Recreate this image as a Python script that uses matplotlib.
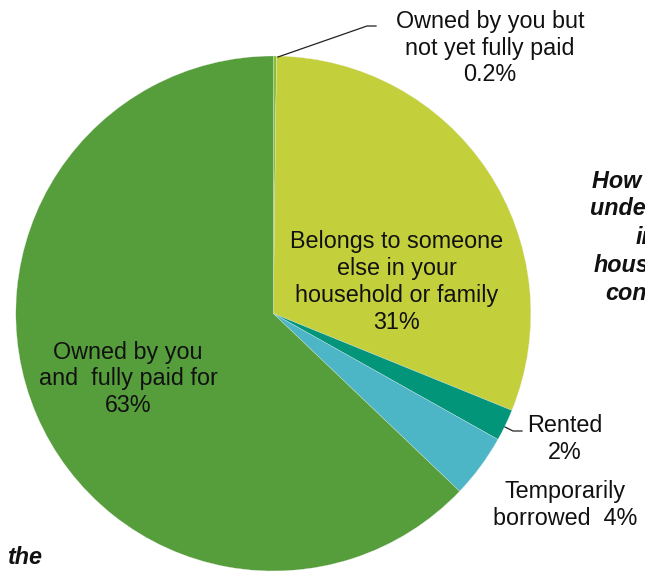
import matplotlib
matplotlib.use("Agg")
import matplotlib.pyplot as plt

plt.rcParams['font.family'] = ['Liberation Sans', 'DejaVu Sans']

# Land ownership shares (%), clockwise from 12 o'clock
categories = [
    "Owned by you but\nnot yet fully paid",
    "Belongs to someone\nelse in your\nhousehold or family",
    "Rented",
    "Temporarily\nborrowed",
    "Owned by you\nand  fully paid for",
]
shares = [0.2, 31, 2, 4, 63]
value_labels = ["0.2%", "31%", "2%", "4%", "63%"]
colors = ["#88BE3C", "#C4D03B", "#03957A", "#4CB6C7", "#559E3B"]

W, H = 645, 577
fig = plt.figure(figsize=(W / 100, H / 100), dpi=100)
ax = fig.add_axes([0, 0, 1, 1])

cx, cy, r = 273.3, H - 313.5, 257.5
ax.pie(shares, colors=colors, startangle=90, counterclock=False,
       center=(cx, cy), radius=r, frame=True,
       wedgeprops=dict(edgecolor='#EEEEEE', linewidth=0.2))
ax.set_xlim(0, W)
ax.set_ylim(0, H)
ax.set_aspect('equal')
ax.axis('off')

fs = 16.8
ls = 1.22
txt = dict(ha='center', va='center', fontsize=fs, color='#111111', linespacing=ls)

# Labels inside the large slices
ax.text(397, H - 282, categories[1] + "\n" + value_labels[1], **txt)
ax.text(128, H - 379, categories[4] + "\n" + value_labels[4], **txt)

# Labels outside the small slices, with leader lines
ax.text(490, H - 48, categories[0] + "\n" + value_labels[0], **txt)
ax.plot([278, 367, 376], [H - 57, H - 26, H - 26], color='#222222', lw=0.9)

ax.text(565, H - 439, categories[2] + "\n" + value_labels[2], **txt)
ax.plot([505, 513, 522], [H - 427, H - 431, H - 431], color='#222222', lw=0.9)

ax.text(565, H - 505, "Temporarily\nborrowed  " + value_labels[3], **txt)

# Side caption running past the canvas edge
side = ["How is the land", "under your", "in", "household", "control"]
side_x = [592, 590, 636, 594, 605]
side_y = [181, 209, 238, 266, 294]
for s, x, y in zip(side, side_x, side_y):
    ax.text(x, H - y, s, ha='left', va='center', fontsize=fs, fontweight='bold',
            style='italic', color='#111111')
ax.text(7, H - 557, "the", ha='left', va='center', fontsize=fs, fontweight='bold',
        style='italic', color='#111111')

fig.savefig("out.png", dpi=100)
